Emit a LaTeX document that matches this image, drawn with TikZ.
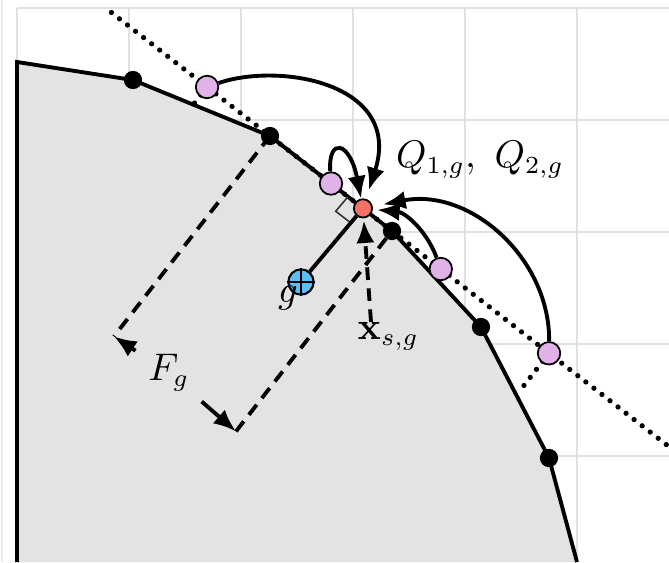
\documentclass[tikz,border=0pt]{standalone}
\usepackage{amsmath}
\usepackage{amssymb}
\usetikzlibrary{arrows.meta,calc}

\definecolor{candpink}{RGB}{224,178,232}
\definecolor{projred}{RGB}{242,112,102}
\definecolor{ctrblue}{RGB}{92,190,242}

\begin{document}
\begin{tikzpicture}[>={Latex[length=6.4pt,width=5.2pt]},
    every node/.style={font=\fontsize{10.6}{13}\selectfont},
    edge/.style={line width=1.1pt},
    gridline/.style={draw=black!12, line width=0.6pt},
    tangent/.style={line width=1.5pt, dash pattern=on 0pt off 2.9pt, line cap=round},
    dimline/.style={line width=1.1pt, dash pattern=on 3.6pt off 2.4pt},
    dot/.style={circle, fill=black, inner sep=0pt, minimum size=5.2pt},
    cand/.style={circle, draw=black, line width=0.5pt, fill=candpink, inner sep=0pt, minimum size=6.4pt},
    proj/.style={circle, draw=black, line width=0.5pt, fill=projred, inner sep=0pt, minimum size=5.2pt},
    ctr/.style={circle, draw=black, line width=0.6pt, fill=ctrblue, inner sep=0pt, minimum size=7.2pt}]
    \useasboundingbox (0,0) rectangle (6.69,5.62);

    \draw[gridline, draw=black!7] (0.02,0) -- (0.02,5.62);
    \foreach \x in {0.17,1.29,2.41,3.53,4.65,5.77}
        \draw[gridline] (\x,0) -- (\x,5.54);
    \foreach \y in {1.06,2.18,3.30,4.42,5.54}
        \draw[gridline] (0.17,\y) -- (6.69,\y);

    \coordinate (c0) at (0.17,0);
    \coordinate (c1) at (0.17,5.00);
    \coordinate (v1) at (1.33,4.82);
    \coordinate (v2) at (2.70,4.26);
    \coordinate (v3) at (3.92,3.31);
    \coordinate (v4) at (4.81,2.35);
    \coordinate (v5) at (5.49,1.04);
    \coordinate (c2) at (5.77,0);
    \fill[black!11] (c0) -- (c1) -- (v1) -- (v2) -- (v3) -- (v4) -- (v5) -- (c2) -- cycle;

    \coordinate (t0) at ($(v2)!-1.30!(v3)$);
    \coordinate (t1) at ($(v2)!3.30!(v3)$);
    \coordinate (p1) at ($(v2)!-0.516!(v3)$);
    \coordinate (p2) at ($(v2)!0.5!(v3)$);
    \coordinate (p3) at ($(v2)!1.40!(v3)$);
    \coordinate (p4) at ($(v2)!2.287!(v3)$);
    \draw[tangent] (t0) -- (t1);
    \draw[tangent] (p1) -- ($(p1)!0.22cm!-90:(p2)$);
    \draw[tangent] (p4) -- ($(p4)!0.42cm!90:(p3)$);

    \draw[edge] (c0) -- (c1) -- (v1) -- (v2) -- (v3) -- (v4) -- (v5) -- (c2);

    \coordinate (A) at ($(v2)!2.54cm!-90:(v3)$);
    \coordinate (B) at ($(v3)!2.54cm!90:(v2)$);
    \draw[dimline] (v2) -- (A);
    \draw[dimline] (B) -- (v3);

    \node[dot] (d1) at (v1) {};
    \node[dot] (d2) at (v2) {};
    \node[dot] (d3) at (v3) {};
    \node[dot] (d4) at (v4) {};
    \node[dot] (d5) at (v5) {};
    \node[cand] (q1) at (p1) {};
    \node[cand] (q2) at (p2) {};
    \node[cand] (q3) at (p3) {};
    \node[cand] (q4) at (p4) {};
    \node[proj] (red) at ($(v2)!0.762!(v3)$) {};
    \node[ctr] (g) at (3.01,2.80) {};
    \draw[line width=0.55pt] (g.north) -- (g.south) (g.west) -- (g.east);

    \coordinate (ra1) at ($(red)!0.19cm!(v2)$);
    \coordinate (ra2) at ($(red)!0.19cm!(g)$);
    \draw[line width=0.45pt, black!80] (ra1) -- ($(ra1)+(ra2)-(red)$) -- (ra2);
    \draw[edge] (g) -- (red);

    \draw[->, edge, shorten >=2.6pt] (q1) .. controls +(0.73,0.25) and +(0.40,1.25) .. (red);
    \draw[->, edge] (q2) .. controls +(-0.03,0.47) and +(-0.13,0.67) .. (red);
    \draw[->, edge, shorten >=1.2pt] (q3) to[bend right=32] (red);
    \draw[->, edge, shorten >=3pt] (q4) .. controls +(0.01,0.95) and +(1.07,0.21) .. (red);

    \node (Q) at (4.80,4.02) {$Q_{1,g},\ Q_{2,g}$};
    \node[inner sep=0pt] (glab) at (2.88,2.64) {$g$};
    \node[inner sep=0pt, anchor=north west] (xs) at (3.57,2.40) {$\mathbf{x}_{s,g}$};
    \coordinate (xs0) at (3.71,2.40);
    \draw[->, dimline, shorten >=0.6pt] (xs0) -- (red);

    \node[inner sep=1pt] (Fg) at (1.69,1.89) {$F_g$};
    \draw[->, edge, shorten <=3pt] (Fg) -- (A);
    \draw[->, edge, shorten <=3pt] (Fg) -- (B);
\end{tikzpicture}
\end{document}
